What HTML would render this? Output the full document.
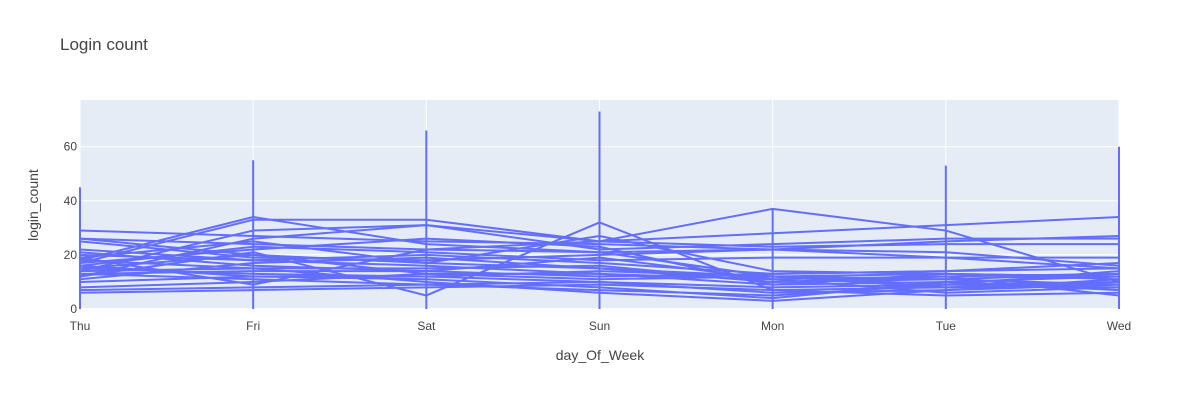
<!DOCTYPE html>
<html><head><meta charset="utf-8"><style>
body{margin:0;background:#fff;font-family:"Liberation Sans",Arial,sans-serif}
svg text{font-family:"Liberation Sans",Arial,sans-serif;fill:#444}
</style></head><body>
<svg id="chart" width="1200" height="400">
<text x="60" y="50" font-size="17">Login count</text>
<rect x="80" y="100" width="1039" height="209" fill="#e5ecf6"/>
<g id="grid"></g><g id="lines"></g><g id="axes"></g>
<text x="600" y="360" font-size="14" text-anchor="middle">day_Of_Week</text>
<text transform="translate(38,205) rotate(-90)" font-size="14" text-anchor="middle">login_count</text>
</svg>
<script>
const days=["Thu","Fri","Sat","Sun","Mon","Tue","Wed"];
const yTicks=[0,20,40,60];
const spikeMin=[0,0,0,0,0,0,0];
const spikeMax=[45,55,66,73,37,53,60];
const rows=[
[29,27,25,24,22,25,27],[26,20,17,15,12,9,8],[18,34,24,21,22,19,15],[12,26,31,25,28,31,34],
[20,18,16,13,9,13,12],[7,8,9,10,8,9,10],[6,7,8,9,7,8,9],[15,13,12,10,6,7,11],
[14,29,31,22,24,26,26],[17,33,33,25,23,24,24],[19,9,22,25,37,29,10],[13,14,14,12,13,14,15],
[11,17,19,15,10,12,13],[21,16,14,19,11,6,8],[16,23,21,18,19,19,19],[25,19,18,20,22,21,16],
[13,11,9,7,5,9,14],[8,10,13,11,12,13,12],[17,22,26,23,9,10,7],[16,12,12,14,12,8,10],
[19,25,17,27,14,13,11],[14,15,15,16,10,11,13],[12,21,5,32,7,5,6],[22,18,20,17,13,14,17],
[18,15,10,6,3,7,9],[10,12,11,8,4,10,12],[15,20,13,13,11,12,5],[26,24,22,21,12,11,9]
];
const NS="http://www.w3.org/2000/svg";
const X=i=>80+i*(1039/(days.length-1));
const Y=v=>309-v*2.705;
const grid=document.getElementById('grid'),lines=document.getElementById('lines'),axes=document.getElementById('axes');
function mk(tag,attrs,parent){const e=document.createElementNS(NS,tag);for(const k in attrs)e.setAttribute(k,attrs[k]);parent.appendChild(e);return e;}
days.forEach((d,i)=>{
 const g=mk('line',{x1:X(i),x2:X(i),y1:100,y2:309,stroke:'#fff','stroke-width':1},grid);
 
 
 const t=mk('text',{x:X(i),y:330,'font-size':12,'text-anchor':'middle'},axes);t.textContent=d;
 
 
});
yTicks.forEach(v=>{
 const g=mk('line',{x1:80,x2:1119,y1:Y(v),y2:Y(v),stroke:'#fff','stroke-width':v===0?2:1},grid);
 
 
 const t=mk('text',{x:77,y:Y(v)+4,'font-size':12,'text-anchor':'end'},axes);t.textContent=v;
 
 
});
rows.forEach(r=>{
 const p=mk('polyline',{points:r.map((v,i)=>X(i)+','+Y(v)).join(' '),fill:'none',stroke:'#636efa','stroke-width':2,'stroke-linejoin':'round'},lines);
 
 
});
days.forEach((d,i)=>{
 const s=mk('line',{x1:X(i),x2:X(i),y1:Y(spikeMin[i]),y2:Y(spikeMax[i]),stroke:'#636efa','stroke-width':2},lines);
 
 
});
</script>
</body></html>
